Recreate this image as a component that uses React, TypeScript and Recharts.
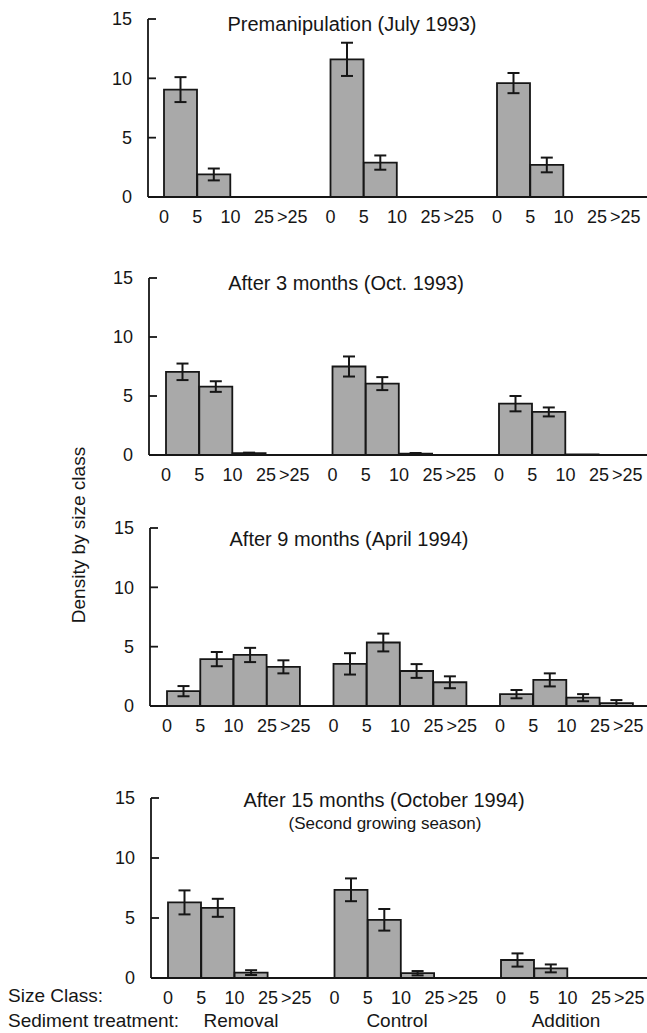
import React from "react";
import { BarChart, Bar, XAxis, YAxis, ErrorBar } from "recharts";

// size class boundaries shown under each treatment group
const sizeTicks = ["0", "5", "10", "25", ">25"];
const treatments = ["Removal", "Control", "Addition"];
const yTicks = [0, 5, 10, 15];

const panelTitles = [
  "Premanipulation (July 1993)",
  "After 3 months (Oct. 1993)",
  "After 9 months (April 1994)",
  "After 15 months (October 1994)",
];
const lastSubtitle = "(Second growing season)";

// values ordered Removal (4 size classes), Control (4), Addition (4)
const jul93Mean = [9.05, 1.9, 0, 0, 11.6, 2.9, 0, 0, 9.6, 2.7, 0, 0];
const jul93Err = [1.05, 0.5, 0, 0, 1.4, 0.6, 0, 0, 0.85, 0.62, 0, 0];

const oct93Mean = [7.05, 5.8, 0.15, 0, 7.5, 6.05, 0.12, 0, 4.35, 3.65, 0.05, 0];
const oct93Err = [0.7, 0.45, 0.05, 0, 0.85, 0.55, 0.05, 0, 0.65, 0.38, 0, 0];

const apr94Mean = [1.25, 3.95, 4.3, 3.3, 3.55, 5.35, 2.95, 2.0, 1.0, 2.2, 0.7, 0.25];
const apr94Err = [0.43, 0.6, 0.6, 0.55, 0.9, 0.75, 0.58, 0.5, 0.35, 0.55, 0.3, 0.25];

const oct94Mean = [6.3, 5.85, 0.45, 0, 7.35, 4.85, 0.4, 0, 1.5, 0.8, 0, 0];
const oct94Err = [1.0, 0.75, 0.2, 0, 0.95, 0.9, 0.18, 0, 0.55, 0.33, 0, 0];

const panelMeans = [jul93Mean, oct93Mean, apr94Mean, oct94Mean];
const panelErrs = [jul93Err, oct93Err, apr94Err, oct94Err];

const FONT = '"Liberation Sans", Arial, Helvetica, sans-serif';
const INK = "#161616";
const BAR_FILL = "#a9a9a9";
const CHART_W = 647;
const BAND = 33.3;

// page placement of each panel (y of 15 and 0, y-axis x, first bar edge, title)
const layout = [
  { top: 19, bottom: 197, axisX: 148, firstBar: 164, titleX: 352, titleY: 31 },
  { top: 278, bottom: 455, axisX: 149, firstBar: 166, titleX: 346, titleY: 290 },
  { top: 528, bottom: 706, axisX: 150, firstBar: 167, titleX: 349, titleY: 546 },
  { top: 798, bottom: 978, axisX: 151, firstBar: 168, titleX: 384, titleY: 807 },
];
const treatmentX = [241, 397, 566];

type Row = { key: string; bin: number; mean: number | null; err: number | null };

function buildRows(means: number[], errs: number[]): Row[] {
  const rows: Row[] = [];
  treatments.forEach((t, ti) => {
    if (ti > 0) rows.push({ key: `gap${ti}`, bin: -1, mean: null, err: null });
    for (let b = 0; b < 4; b++) {
      const i = ti * 4 + b;
      rows.push({ key: `${t}-${b}`, bin: b, mean: means[i], err: errs[i] });
    }
  });
  return rows;
}

const Panel = ({ index }: { index: number }) => {
  const L = layout[index];
  const rows = buildRows(panelMeans[index], panelErrs[index]);
  const padTop = 10;
  const xAxisH = 40;
  const plotH = L.bottom - L.top;
  const padLeft = L.firstBar - L.axisX;
  const padRight = CHART_W - L.firstBar - BAND * 14;

  const XTick = (props: any) => {
    const { x, y, payload } = props;
    const row = rows[payload.index];
    if (!row || row.bin < 0) return null;
    const textProps = { fontSize: 18, fontFamily: FONT, fill: INK, textAnchor: "middle" as const };
    return (
      <g>
        <text x={x - BAND / 2} y={y + 24} {...textProps}>
          {sizeTicks[row.bin]}
        </text>
        {row.bin === 3 && (
          <text x={x + BAND / 2 - 5} y={y + 24} {...textProps}>
            {sizeTicks[4]}
          </text>
        )}
      </g>
    );
  };

  const YTick = (props: any) => {
    const { y, payload } = props;
    return (
      <g>
        <line x1={L.axisX} x2={L.axisX + 8} y1={y} y2={y} stroke={INK} strokeWidth={1.8} />
        <text x={L.axisX - 16} y={y} dy="0.35em" textAnchor="end" fontSize={18} fontFamily={FONT} fill={INK}>
          {payload.value}
        </text>
      </g>
    );
  };

  return (
    <div style={{ position: "absolute", left: 0, top: L.top - padTop }}>
      <BarChart
        width={CHART_W}
        height={padTop + plotH + xAxisH}
        data={rows}
        margin={{ top: padTop, right: 0, bottom: 0, left: 0 }}
        barCategoryGap={0}
      >
        <XAxis
          dataKey="key"
          interval={0}
          tick={XTick}
          tickLine={false}
          tickSize={0}
          height={xAxisH}
          axisLine={{ stroke: INK, strokeWidth: 1.8 }}
          padding={{ left: padLeft, right: padRight }}
        />
        <YAxis
          type="number"
          domain={[0, 15]}
          ticks={yTicks}
          width={L.axisX}
          tick={YTick}
          tickLine={false}
          tickSize={0}
          axisLine={{ stroke: INK, strokeWidth: 1.8 }}
        />
        <Bar dataKey="mean" fill={BAR_FILL} stroke={INK} strokeWidth={1.8} isAnimationActive={false}>
          <ErrorBar dataKey="err" width={6} stroke={INK} strokeWidth={2} />
        </Bar>
      </BarChart>
    </div>
  );
};

export default function App() {
  return (
    <div style={{ position: "absolute", left: 0, top: 0, width: 647, height: 1033, background: "#fff" }}>
      {panelTitles.map((_, i) => (
        <Panel key={i} index={i} />
      ))}
      <svg width={647} height={1033} style={{ position: "absolute", left: 0, top: 0, pointerEvents: "none" }}>
        <g fontFamily={FONT} fill={INK}>
          {panelTitles.map((t, i) => (
            <text key={t} x={layout[i].titleX} y={layout[i].titleY} textAnchor="middle" fontSize={20}>
              {t}
            </text>
          ))}
          <text x={385} y={829} textAnchor="middle" fontSize={17}>
            {lastSubtitle}
          </text>
          <text transform="translate(85,535) rotate(-90)" textAnchor="middle" fontSize={19}>
            Density by size class
          </text>
          <text x={8} y={1002} fontSize={19}>
            Size Class:
          </text>
          <text x={8} y={1027} fontSize={19}>
            Sediment treatment:
          </text>
          {treatments.map((t, i) => (
            <text key={t} x={treatmentX[i]} y={1027} textAnchor="middle" fontSize={19}>
              {t}
            </text>
          ))}
        </g>
      </svg>
    </div>
  );
}
